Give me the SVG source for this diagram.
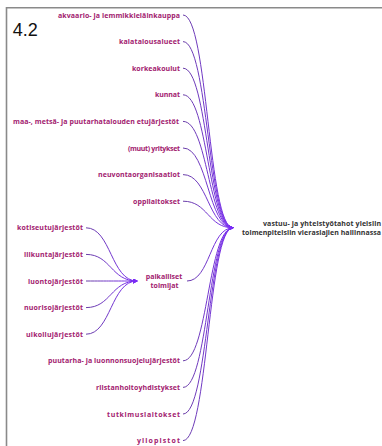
<svg xmlns="http://www.w3.org/2000/svg" width="382" height="446" viewBox="0 0 382 446">
<style>
.lbl{font-family:"Open Sans","Liberation Sans",sans-serif;font-size:7px;font-weight:bold;fill:#a2216f;text-anchor:end}
.mid{font-family:"Open Sans","Liberation Sans",sans-serif;font-size:7px;font-weight:bold;fill:#a2216f;text-anchor:middle}
.main{font-family:"Open Sans","Liberation Sans",sans-serif;font-size:7px;font-weight:bold;fill:#333;text-anchor:end}
.title{font-family:"Liberation Sans",Arial,sans-serif;font-size:18px;fill:#111}
.c1{fill:none;stroke:url(#g1);stroke-width:1;marker-end:url(#ah)}
.c2{fill:none;stroke:url(#g2);stroke-width:1;marker-end:url(#ah)}
</style>
<defs>
<linearGradient id="g1" gradientUnits="userSpaceOnUse" x1="183" y1="0" x2="233" y2="0">
<stop offset="0" stop-color="#6a3fa6"/><stop offset="1" stop-color="#7a2cf5"/>
</linearGradient>
<linearGradient id="g2" gradientUnits="userSpaceOnUse" x1="86" y1="0" x2="137" y2="0">
<stop offset="0" stop-color="#6a3fa6"/><stop offset="1" stop-color="#7a2cf5"/>
</linearGradient>
<marker id="ah" viewBox="0 0 6 6" refX="5" refY="3" markerWidth="5" markerHeight="5" markerUnits="userSpaceOnUse" orient="auto">
<path d="M0,0 L6,3 L0,6 z" fill="#7a2cf5"/>
</marker>
</defs>
<rect width="382" height="446" fill="#fff"/>
<path d="M6.5,446 V7.8 H382" fill="none" stroke="#8a8a8a" stroke-width="1.6"/>
<text class="title" x="12.7" y="36">4.2</text>

<g id="connectors">
<path class="c1" d="M183,15 C208,15 208,227.8 233,227.8"/>
<path class="c1" d="M183,41.6 C208,41.6 208,227.8 233,227.8"/>
<path class="c1" d="M183,68.2 C208,68.2 208,227.8 233,227.8"/>
<path class="c1" d="M183,94.8 C208,94.8 208,227.8 233,227.8"/>
<path class="c1" d="M183,121.4 C208,121.4 208,227.8 233,227.8"/>
<path class="c1" d="M183,148 C208,148 208,227.8 233,227.8"/>
<path class="c1" d="M183,174.6 C208,174.6 208,227.8 233,227.8"/>
<path class="c1" d="M183,201.2 C208,201.2 208,227.8 233,227.8"/>
<path class="c1" d="M187,281 C210,281 210,227.8 233,227.8"/>
<path class="c1" d="M183,360.8 C208,360.8 208,227.8 233,227.8"/>
<path class="c1" d="M183,387.4 C208,387.4 208,227.8 233,227.8"/>
<path class="c1" d="M183,414 C208,414 208,227.8 233,227.8"/>
<path class="c1" d="M183,440.6 C208,440.6 208,227.8 233,227.8"/>
<path class="c2" d="M86,227.8 C111,227.8 111,281 137,281"/>
<path class="c2" d="M86,254.4 C111,254.4 111,281 137,281"/>
<path class="c2" d="M86,281 C111,281 111,281 137,281"/>
<path class="c2" d="M86,307.6 C111,307.6 111,281 137,281"/>
<path class="c2" d="M86,334.2 C111,334.2 111,281 137,281"/>
</g>

<g id="n-main"><text class="main"><tspan x="381" y="225.5" textLength="118">vastuu- ja yhteistyötahot yleisiin</tspan><tspan x="381" y="234.5" textLength="139">toimenpiteisiin vieraslajien hallinnassa</tspan></text></g>
<g id="n-akvaario"><text class="lbl" x="180" y="17.5" textLength="122">akvaario- ja lemmikkieläinkauppa</text></g>
<g id="n-kalatalousalueet"><text class="lbl" x="180" y="44.1" textLength="61">kalatalousalueet</text></g>
<g id="n-korkeakoulut"><text class="lbl" x="180" y="70.7" textLength="48">korkeakoulut</text></g>
<g id="n-kunnat"><text class="lbl" x="180" y="97.3" textLength="25">kunnat</text></g>
<g id="n-maa"><text class="lbl" x="179" y="123.9" textLength="166">maa-, metsä- ja puutarhatalouden etujärjestöt</text></g>
<g id="n-yritykset"><text class="lbl" x="180" y="150.5" textLength="52">(muut) yritykset</text></g>
<g id="n-neuvonta"><text class="lbl" x="180" y="177.1" textLength="82">neuvontaorganisaatiot</text></g>
<g id="n-oppilaitokset"><text class="lbl" x="180" y="203.7" textLength="47">oppilaitokset</text></g>
<g id="n-kotiseutu"><text class="lbl" x="83" y="230.3" textLength="66">kotiseutujärjestöt</text></g>
<g id="n-liikunta"><text class="lbl" x="83" y="256.9" textLength="59">liikuntajärjestöt</text></g>
<g id="n-luonto"><text class="lbl" x="83" y="283.5" textLength="55">luontojärjestöt</text></g>
<g id="n-nuoriso"><text class="lbl" x="83" y="310.1" textLength="59">nuorisojärjestöt</text></g>
<g id="n-ulkoilu"><text class="lbl" x="83" y="336.7" textLength="57">ulkoilujärjestöt</text></g>
<g id="n-paikalliset"><text class="mid"><tspan x="164" y="278.5">paikalliset</tspan><tspan x="164.5" y="287.5">toimijat</tspan></text></g>
<g id="n-puutarha"><text class="lbl" x="180" y="363.3" textLength="132">puutarha- ja luonnonsuojelujärjestöt</text></g>
<g id="n-riista"><text class="lbl" x="180" y="389.9" textLength="84">riistanhoitoyhdistykset</text></g>
<g id="n-tutkimus"><text class="lbl" x="180" y="416.5" textLength="73">tutkimuslaitokset</text></g>
<g id="n-yliopistot"><text class="lbl" x="180" y="443.1" textLength="43">yliopistot</text></g>
</svg>
